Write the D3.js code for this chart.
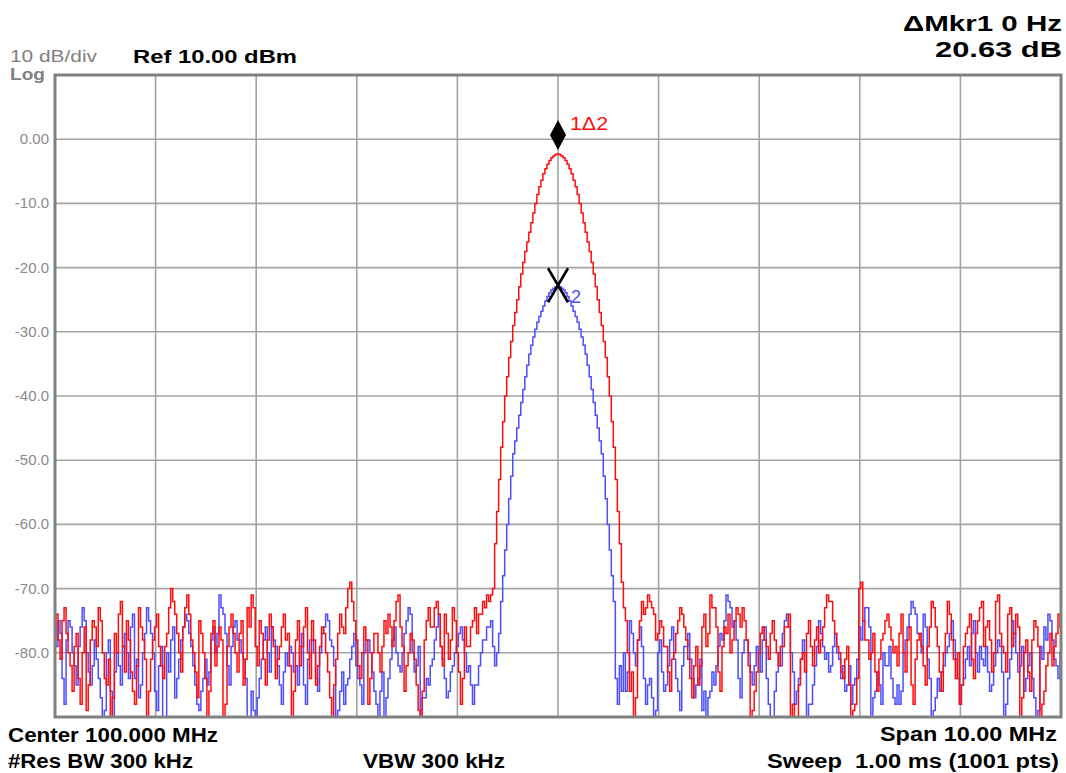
<!DOCTYPE html>
<html>
<head>
<meta charset="utf-8">
<script src="https://cdn.jsdelivr.net/npm/d3@7"></script>
<style>
  html, body { margin: 0; padding: 0; background: #ffffff; }
  svg { display: block; }
  text { font-family: "Liberation Sans", Arial, Helvetica, sans-serif; }
</style>
</head>
<body>
<svg id="chart" width="1066" height="773"></svg>
<script>
// ---------------- data ----------------
const startFreqMHz = 95;
const stopFreqMHz = 105;
const refLevelDbm = 10;
const bottomLevelDbm = -90;

const xGridFreqs = [95, 96, 97, 98, 99, 100, 101, 102, 103, 104, 105];
const yGridLevels = [10, 0, -10, -20, -30, -40, -50, -60, -70, -80, -90];
const yTickLevels = [0, -10, -20, -30, -40, -50, -60, -70, -80];
const yTickLabels = ["0.00", "-10.0", "-20.0", "-30.0", "-40.0", "-50.0", "-60.0", "-70.0", "-80.0"];

// Trace 1 (red), dBm. Sweep points evenly spaced 95..105 MHz (0.02 MHz apart).
const trace1Left = [
  -76,-74,-78,-81,-75,-73,-77,-80,-82,-86,-79,-77,-84,-88,-80,-76,-89,-85,-78,-75,
  -76,-79,-73,-75,-80,-84,-85,-81,-91,-87,-77,-80,-74,-72,-79,-83,-75,-78,-83,-86,
  -88,-82,-73,-76,-78,-81,-92,-86,-81,-78,-76,-74,-79,-82,-84,-79,-77,-73,-70,-72,
  -74,-77,-80,-83,-76,-73,-71,-74,-78,-80,-83,-87,-75,-77,-80,-84,-91,-86,-77,-75,
  -82,-79,-76,-78,-93,-88,-79,-76,-74,-77,-80,-83,-77,-75,-85,-81,-73,-76,-71,-73,
  -79,-82,-75,-77,-81,-85,-78,-74,-76,-79,-84,-81,-79,-76,-74,-78,-77,-82,-90,-86,
  -78,-75,-82,-79,-76,-73,-80,-84,-75,-78,-85,-82,-79,-76,-77,-80,-83,-87,-92,-85,
  -81,-77,-74,-76,-77,-73,-70,-69,-72,-75,-78,-82,-84,-80,-76,-78,-88,-84,-80,-77,
  -77,-80,-83,-79,-75,-77,-74,-76,-79,-75,-72,-71,-76,-79,-86,-82,-80,-77,-78,-81,
  -85,-89,-93,-86,-78,-75,-73,-76,-76,-73,-72,-74,-79,-82,-74,-77,-81,-78,-73,-75,
  -80,-83,-88,-84,-76,-79,-79,-76,-75,-73,-77,-74,-74,-72,-73,-71,-72,-71
];
const trace1Peak = [
  -70,-63,-58,-53,-48,-44,-40,-37,-34,-31.5,-29,-27,-25,-23,-21,-19.2,
  -17.5,-16,-14.5,-13,-11.5,-10,-8.6,-7.4,-6.4,-5.4,-4.6,-3.9,-3.3,-2.9,-2.6,-2.4,
  -2.3,
  -2.4,-2.6,-2.9,-3.3,-3.9,-4.6,-5.4,-6.4,-7.4,-8.6,-10,-11.5,-13,-14.5,-16,-17.5,
  -19.2,-21,-23,-25,-27,-29,-31.5,-34,-37,-40,-44,-48,-53,-58,-63,-69
];
const trace1Right = [
  -73,
  -75,-80,-86,-83,-91,-87,-78,-75,-72,-74,-73,-71,-72,-73,-74,-78,
  -77,-75,-76,-79,-79,-83,-86,-81,-80,-77,-75,-73,-74,-76,-78,-81,-84,-87,-82,-79,
  -85,-82,-76,-74,-79,-77,-71,-73,-73,-76,-83,-86,-79,-76,-77,-74,-80,-78,-75,-73,
  -74,-76,-73,-75,-78,-82,-92,-89,-86,-83,-80,-77,-76,-78,-79,-81,-77,-75,-78,-80,
  -82,-79,-79,-76,-76,-74,-91,-88,-93,-90,-85,-81,-80,-83,-77,-75,-79,-82,-78,-76,
  -80,-78,-76,-73,-71,-72,-72,-75,-77,-79,-80,-83,-84,-81,-79,-85,-92,-89,-88,-84,
  -70,-69,-75,-78,-78,-81,-80,-77,-83,-86,-81,-78,-77,-75,-74,-76,-78,-80,-79,-82,
  -77,-74,-80,-83,-78,-76,-85,-88,-81,-78,-77,-79,-82,-85,-79,-76,-72,-73,-76,-79,
  -83,-86,-80,-77,-72,-74,-78,-81,-84,-80,-88,-85,-79,-77,-76,-74,-81,-84,-77,-75,
  -73,-72,-79,-76,-75,-78,-83,-80,-72,-71,-77,-79,-80,-83,-74,-73,-79,-77,-74,-76,
  -91,-87,-80,-78,-83,-86,-78,-75,-76,-79,-92,-88,-86,-82,-80,-77,-82,-79,-77,-74,
  -76
];

// Trace 2 (blue), dBm
const trace2Left = [
  -76,-79,-75,-77,-84,-88,-78,-75,-76,-80,-82,-85,-79,-76,-73,-75,-80,-83,-85,-82,
  -78,-81,-84,-87,-92,-89,-80,-78,-86,-90,-83,-80,-82,-85,-79,-77,-80,-84,-76,-74,
  -84,-81,-87,-85,-80,-77,-73,-75,-77,-80,-86,-89,-82,-79,-93,-90,-80,-83,-78,-76,
  -87,-84,-81,-78,-76,-74,-75,-77,-79,-82,-85,-88,-89,-86,-84,-81,-85,-83,-78,-76,
  -80,-77,-71,-73,-74,-77,-82,-85,-79,-76,-75,-78,-78,-80,-81,-84,-93,-90,-86,-89,
  -91,-87,-84,-81,-78,-76,-80,-83,-76,-78,-79,-82,-85,-88,-83,-80,-82,-79,-80,-83,
  -82,-85,-79,-77,-85,-88,-81,-78,-78,-80,-84,-86,-80,-77,-76,-74,-75,-78,-79,-82,
  -92,-89,-86,-83,-88,-85,-84,-81,-79,-77,-82,-84,-85,-88,-80,-78,-78,-80,-83,-86,
  -88,-90,-86,-83,-91,-87,-84,-81,-78,-76,-80,-82,-83,-80,-77,-75,-73,-74,-80,-83,
  -82,-79,-90,-87,-87,-84,-85,-82,-81,-78,-76,-74,-79,-81,-84,-87,-86,-83,-82,-80,
  -79,-77,-76,-78,-80,-83,-82,-85,-88,-85,-85,-82,-80,-78,-78,-76,-76,-75,
  -79,-82,-80,-77
];
const trace2Peak = [
  -72,-68,-64,-60,-56,-52.5,-49,-47,-45,-43,-41,-39,-37,-35.2,
  -33.5,-32.1,-30.8,-29.6,-28.5,-27.6,-26.8,-26,-25.2,-24.5,-23.9,-23.5,-23.2,-23,
  -22.9,
  -23,-23.2,-23.5,-23.9,-24.5,-25.2,-26,-26.8,-27.6,-28.5,-29.6,-30.8,-32.1,-33.5,
  -35.2,-37,-39,-41,-43,-45,-47,-49,-52.5,-56,-60,-64,-68,-72
];
const trace2Right = [
  -84,-88,-82,-86,-80,
  -86,-83,-75,-77,-80,-82,-78,-76,-79,-84,-88,-85,-84,-87,-92,-89,
  -80,-78,-83,-86,-85,-82,-78,-76,-81,-84,-86,-89,-82,-79,-79,-77,-81,-84,-87,-85,
  -84,-81,-89,-86,-90,-87,-86,-83,-85,-82,-79,-77,-78,-75,-71,-72,-73,-76,-75,-78,
  -84,-87,-80,-78,-78,-80,-83,-85,-82,-79,-80,-83,-78,-76,-84,-88,-93,-90,-86,-83,
  -80,-82,-77,-75,-74,-76,-80,-83,-88,-86,-84,-81,-78,-80,-91,-88,-88,-85,-82,-79,
  -75,-77,-79,-81,-80,-83,-82,-79,-77,-80,-81,-84,-82,-86,-85,-82,-88,-85,-84,-81,
  -76,-78,-75,-73,-73,-76,-90,-87,-86,-83,-85,-88,-80,-82,-82,-79,-84,-87,-88,-85,
  -88,-86,-80,-78,-76,-74,-72,-73,-74,-77,-77,-80,-74,-76,-81,-84,-92,-89,-87,-84,
  -86,-83,-82,-80,-79,-77,-75,-78,-81,-84,-88,-85,-84,-81,-79,-82,-77,-75,-80,-83,
  -79,-81,-82,-79,-83,-86,-85,-82,-80,-78,-79,-83,-91,-88,-84,-81,-75,-77,-80,-83,
  -82,-79,-86,-84,-82,-80,-84,-87,-92,-89,-79,-81,-76,-78,-74,-75,-78,-81,-82,-84,
  -80
];

const trace1 = trace1Left.concat(trace1Peak, trace1Right);
const trace2 = trace2Left.concat(trace2Peak, trace2Right);

// ---------------- drawing ----------------
const svg = d3.select("#chart");
const plot = { left: 55, right: 1061, top: 75, bottom: 717 };

const x = d3.scaleLinear().domain([startFreqMHz, stopFreqMHz]).range([plot.left, plot.right]);
const y = d3.scaleLinear().domain([bottomLevelDbm, refLevelDbm]).range([plot.bottom, plot.top]);

function freqOf(i, n) { return startFreqMHz + i * (stopFreqMHz - startFreqMHz) / (n - 1); }

// grid
const grid = svg.append("g");
grid.selectAll("line.v").data(xGridFreqs).enter().append("line")
  .attr("x1", d => x(d)).attr("x2", d => x(d))
  .attr("y1", plot.top).attr("y2", plot.bottom)
  .attr("stroke", "#a3a3a3").attr("stroke-width", 1.6);
grid.selectAll("line.h").data(yGridLevels).enter().append("line")
  .attr("x1", plot.left).attr("x2", plot.right)
  .attr("y1", d => y(d)).attr("y2", d => y(d))
  .attr("stroke", "#a3a3a3").attr("stroke-width", 1.6);

// y tick labels
svg.append("g").selectAll("text").data(yTickLevels).enter().append("text")
  .attr("x", 49).attr("y", d => y(d) + 5)
  .attr("text-anchor", "end")
  .attr("font-size", 15).attr("fill", "#8a8a8a")
  .text((d, i) => yTickLabels[i]);

// clip
svg.append("defs").append("clipPath").attr("id", "plotClip")
  .append("rect").attr("x", plot.left).attr("y", plot.top)
  .attr("width", plot.right - plot.left).attr("height", plot.bottom - plot.top);

const line = d3.line()
  .x((d, i, arr) => x(freqOf(i, arr.length)))
  .y(d => y(d))
  .curve(d3.curveStep);

const traces = svg.append("g").attr("clip-path", "url(#plotClip)");
traces.append("path").datum(trace2)
  .attr("d", line).attr("fill", "none")
  .attr("stroke", "#4d4dff").attr("stroke-width", 1.5);
traces.append("path").datum(trace1)
  .attr("d", line).attr("fill", "none")
  .attr("stroke", "#ff0d0d").attr("stroke-width", 1.5);

// border
svg.append("rect")
  .attr("x", plot.left).attr("y", plot.top)
  .attr("width", plot.right - plot.left).attr("height", plot.bottom - plot.top)
  .attr("fill", "none").attr("stroke", "#808080").attr("stroke-width", 3);

// markers
const i1 = d3.maxIndex(trace1);
const i2 = d3.maxIndex(trace2);
const m1x = x(freqOf(i1, trace1.length)), m1y = y(trace1[i1]);
const m2x = x(freqOf(i2, trace2.length)), m2y = y(trace2[i2]);

svg.append("path")
  .attr("d", `M${m1x},${m1y - 34} L${m1x + 8},${m1y - 19} L${m1x},${m1y - 4} L${m1x - 8},${m1y - 19} Z`)
  .attr("fill", "#000");
svg.append("text")
  .attr("x", m1x + 12).attr("y", m1y - 24)
  .attr("font-size", 18).attr("fill", "#ff0d0d")
  .attr("textLength", 38).attr("lengthAdjust", "spacingAndGlyphs")
  .text("1\u03942");

svg.append("path")
  .attr("d", `M${m2x - 10},${m2y - 18} L${m2x + 10},${m2y + 16} M${m2x + 10},${m2y - 18} L${m2x - 10},${m2y + 16}`)
  .attr("stroke", "#000").attr("stroke-width", 2.6).attr("fill", "none");
svg.append("text")
  .attr("x", m2x + 13).attr("y", m2y + 17)
  .attr("font-size", 18).attr("fill", "#4d4dff")
  .text("2");

// annotation texts
function label(t, xs, ys, size, weight, len, color) {
  svg.append("text")
    .attr("x", xs).attr("y", ys)
    .attr("font-size", size).attr("font-weight", weight)
    .attr("fill", color)
    .attr("textLength", len).attr("lengthAdjust", "spacingAndGlyphs")
    .style("white-space", "pre")
    .text(t);
}
label("10 dB/div", 10, 62, 16, "normal", 87, "#808080");
label("Log", 10, 80, 16, "bold", 35, "#808080");
label("Ref 10.00 dBm", 133, 63, 19, "bold", 164, "#000");
label("\u0394Mkr1 0 Hz", 903, 31, 22, "bold", 159, "#000");
label("20.63 dB", 935, 57, 22, "bold", 127, "#000");
label("Center 100.000 MHz", 8, 742, 20, "bold", 210, "#000");
label("#Res BW 300 kHz", 8, 768, 20, "bold", 185, "#000");
label("VBW 300 kHz", 363, 768, 20, "bold", 142, "#000");
label("Span 10.00 MHz", 880, 741, 20, "bold", 177, "#000");
label("Sweep  1.00 ms (1001 pts)", 767, 768, 20, "bold", 292, "#000");
</script>
</body>
</html>
